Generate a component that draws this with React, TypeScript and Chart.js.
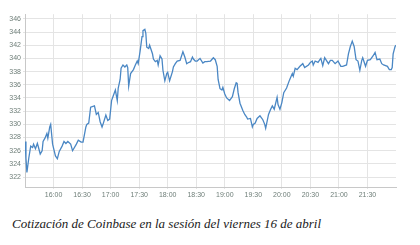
import React, { useEffect, useRef } from "react";
import { Chart, registerables } from "chart.js";

Chart.register(...registerables);

const times: string[] = [
  "15:30","15:31","15:32","15:34","15:36","15:38","15:39","15:41","15:43","15:44",
  "15:46","15:48","15:49","15:51","15:53","15:54","15:56","15:57","15:59","16:02",
  "16:04","16:06","16:09","16:11","16:13","16:15","16:18","16:20","16:24","16:26",
  "16:29","16:31","16:34","16:35","16:37","16:39","16:43","16:45","16:47","16:49",
  "16:51","16:52","16:55","16:57","16:59","17:01","17:03","17:05","17:07","17:08",
  "17:10","17:11","17:13","17:15","17:17","17:18","17:19","17:21","17:24","17:26",
  "17:28","17:29","17:31","17:33","17:34","17:36","17:37","17:38","17:40","17:41",
  "17:44","17:45","17:47","17:49","17:50","17:52","17:54","17:55","17:57","17:59",
  "18:00","18:02","18:05","18:06","18:08","18:10","18:13","18:16","18:18","18:20",
  "18:21","18:24","18:26","18:27","18:29","18:31","18:34","18:37","18:39","18:41",
  "18:45","18:48","18:50","18:52","18:53","18:55","18:57","18:58","19:00","19:02",
  "19:05","19:08","19:10","19:12","19:13","19:14","19:16","19:19","19:21","19:23",
  "19:24","19:27","19:29","19:30","19:32","19:34","19:37","19:40","19:42","19:43",
  "19:46","19:48","19:50","19:52","19:55","19:56","19:58","20:00","20:02","20:05",
  "20:08","20:11","20:12","20:14","20:16","20:19","20:22","20:24","20:28","20:30",
  "20:32","20:33","20:35","20:38","20:40","20:41","20:43","20:45","20:49","20:51",
  "20:53","20:56","20:59","21:02","21:04","21:08","21:10","21:12","21:13","21:14",
  "21:16","21:18","21:20","21:22","21:24","21:25","21:28","21:30","21:33","21:36",
  "21:38","21:40","21:43","21:45","21:47","21:51","21:53","21:55","21:56","21:57",
  "21:59","22:00"
];

const prices: number[] = [
  327.4,324.9,322.7,324.9,326.7,326.5,327.0,326.3,327.1,326.6,
  325.5,326.0,327.4,327.9,328.6,327.9,329.6,330.0,327.0,325.2,
  324.8,325.9,326.7,327.4,327.1,327.4,327.0,326.0,327.0,327.6,
  327.3,327.3,329.6,330.0,330.2,332.6,332.8,331.5,331.8,330.4,
  329.6,330.0,331.4,330.6,330.8,333.6,334.4,335.2,333.6,335.5,
  336.8,338.5,339.0,338.7,339.0,338.6,335.8,337.7,338.3,339.0,
  339.6,339.2,341.1,343.3,344.2,344.4,343.8,341.7,341.5,342.0,
  340.7,339.9,339.5,339.7,339.0,340.4,339.9,338.2,336.6,337.7,
  337.9,336.6,338.0,338.7,339.2,339.6,339.7,341.0,340.2,339.2,
  339.3,339.5,340.2,339.9,339.6,339.6,340.0,339.3,339.5,339.5,
  339.6,340.1,339.8,338.8,336.8,335.4,335.2,335.6,334.6,334.0,
  333.6,334.2,335.4,336.3,336.2,334.8,333.2,332.1,331.5,331.1,
  330.8,330.9,329.6,330.0,330.2,330.9,331.3,330.7,330.0,329.4,
  331.5,332.2,332.8,332.3,334.1,333.0,332.3,333.3,334.8,335.5,
  336.7,337.7,337.3,338.5,338.3,338.8,339.2,338.6,339.0,339.4,
  339.6,339.0,339.6,339.4,339.8,340.0,338.9,340.1,339.2,339.7,
  339.7,339.2,339.6,338.8,338.8,339.0,340.7,341.8,342.2,342.6,
  341.8,339.8,339.6,338.2,339.7,340.1,338.8,339.7,339.8,340.4,
  340.9,339.8,339.9,339.2,339.0,338.8,338.3,338.3,338.6,340.7,
  341.8,342.0
];

const xTickLabels: string[] = ["16:00","16:30","17:00","17:30","18:00","18:30","19:00","19:30","20:00","20:30","21:00","21:30"];
const yTickValues: number[] = [322,324,326,328,330,332,334,336,338,340,342,344,346];

const caption = "Cotización de Coinbase en la sesión del viernes 16 de abril";

const toMin = (s: string) => {
  const [h, m] = s.split(":").map(Number);
  return h * 60 + m;
};
const fromMin = (v: number) => {
  const h = Math.floor(v / 60);
  const m = Math.round(v - h * 60);
  return `${h}:${m < 10 ? "0" + m : m}`;
};

export default function App() {
  const ref = useRef<HTMLCanvasElement | null>(null);
  useEffect(() => {
    if (!ref.current) return;
    const tickFont = { family: "Arial, 'Liberation Sans', sans-serif", size: 7 };
    const chart = new Chart(ref.current, {
      type: "line",
      data: {
        datasets: [
          {
            data: times.map((t, i) => ({ x: toMin(t), y: prices[i] })),
            borderColor: "#4a87c4",
            borderWidth: 1.3,
            pointRadius: 0,
            tension: 0,
            fill: false,
          },
        ],
      },
      options: {
        animation: false,
        responsive: false,
        maintainAspectRatio: false,
        layout: { padding: { top: 2, right: 16, left: 0, bottom: 0 } },
        plugins: { legend: { display: false }, tooltip: { enabled: false } },
        scales: {
          x: {
            type: "linear",
            min: toMin("15:30"),
            max: toMin("22:00"),
            afterBuildTicks: (s: any) => {
              s.ticks = xTickLabels.map((l) => ({ value: toMin(l) }));
            },
            afterFit: (s: any) => {
              s.height = 21;
            },
            ticks: {
              font: tickFont,
              color: "#6e7e78",
              maxRotation: 0,
              autoSkip: false,
              padding: 2,
              callback: (v: any) => fromMin(Number(v)),
            },
            grid: { color: "#e4e4e4", lineWidth: 1, tickLength: 2 },
            border: { color: "#c8c8c8", width: 1 },
          },
          y: {
            type: "linear",
            min: 320.5,
            max: 346.7,
            afterBuildTicks: (s: any) => {
              s.ticks = yTickValues.map((v) => ({ value: v }));
            },
            afterFit: (s: any) => {
              s.width = 17;
            },
            ticks: {
              font: tickFont,
              color: "#6e7e78",
              padding: 2,
              callback: (v: any) => String(v),
            },
            grid: { color: "#e4e4e4", lineWidth: 1, tickLength: 2 },
            border: { color: "#c8c8c8", width: 1 },
          },
        },
      },
    });
    return () => chart.destroy();
  }, []);

  return (
    <div style={{ width: 404 }}>
      <canvas ref={ref} width={404} height={200} style={{ display: "block" }} />
      <div
        style={{
          fontFamily: "'Liberation Serif', 'Times New Roman', serif",
          fontStyle: "italic",
          fontSize: 13,
          color: "#1a1a1a",
          marginTop: 8,
          paddingLeft: 4,
          whiteSpace: "nowrap",
        }}
      >
        {caption}
      </div>
    </div>
  );
}
